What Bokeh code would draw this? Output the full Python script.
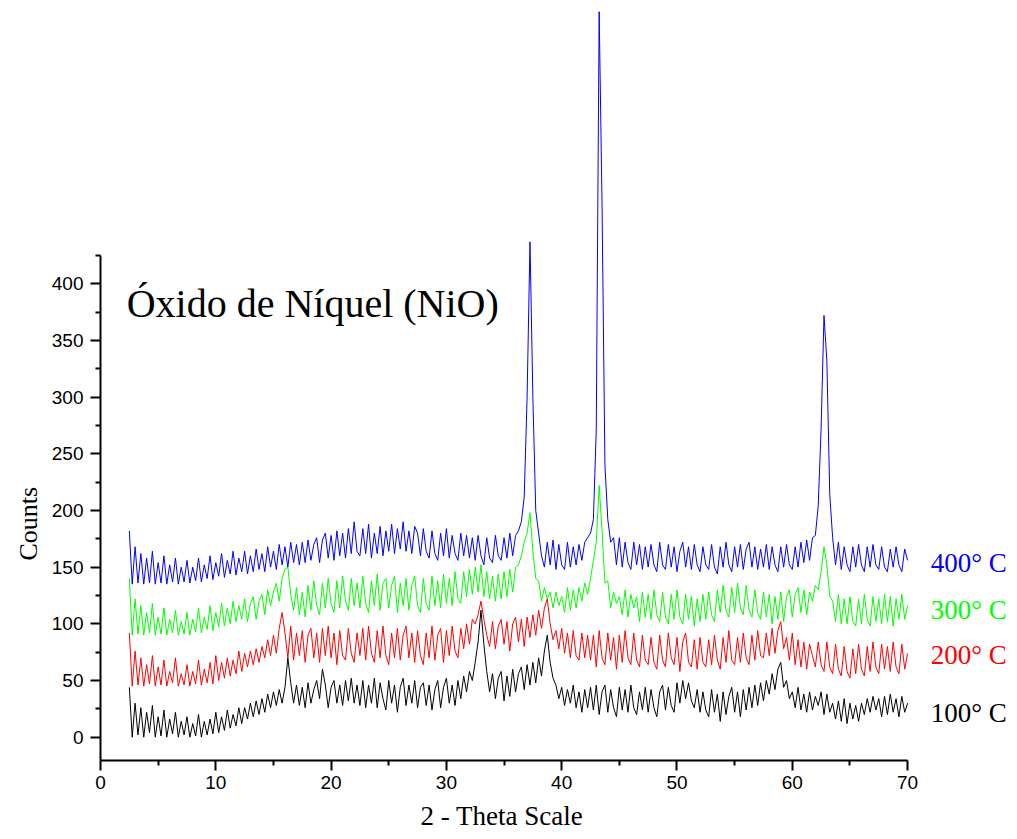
import math
from bokeh.plotting import figure
from bokeh.models import Range1d, FixedTicker, Title
from bokeh.core.properties import value
from bokeh.embed import file_html
from bokeh.resources import INLINE

# ---------------- data ----------------
two_theta_start = 2.5
two_theta_step = 0.25

counts_100 = [
    44, 0, 30, 2, 26, 0, 22, 4, 28, 0, 18, 1, 24, 0, 16, 3, 22, 0, 14, 2,
    18, 0, 12, 1, 20, 0, 14, 2, 16, 3, 22, 4, 18, 6, 24, 8, 20, 10, 26, 12,
    26, 16, 30, 18, 32, 20, 34, 22, 38, 26, 40, 28, 42, 30, 44, 70, 48, 30, 46, 28,
    44, 26, 48, 30, 42, 50, 34, 60, 46, 26, 44, 50, 30, 46, 28, 50, 32, 52, 30, 46,
    28, 50, 26, 46, 30, 52, 26, 48, 34, 24, 50, 30, 46, 22, 44, 52, 28, 46, 30, 50,
    26, 44, 48, 28, 46, 24, 42, 50, 26, 44, 52, 30, 46, 28, 50, 34, 54, 40, 58, 50,
    66, 84, 112, 82, 58, 40, 56, 34, 52, 58, 32, 54, 36, 60, 40, 56, 62, 42, 64, 46,
    66, 48, 70, 54, 76, 90, 66, 52, 46, 34, 44, 28, 42, 30, 46, 26, 40, 22, 42, 26,
    44, 24, 46, 20, 40, 46, 22, 42, 26, 18, 44, 24, 42, 22, 46, 26, 20, 40, 24, 44,
    22, 42, 26, 18, 40, 46, 24, 44, 28, 22, 48, 30, 50, 34, 48, 32, 26, 42, 22, 40,
    24, 18, 42, 22, 38, 14, 40, 20, 36, 44, 22, 40, 18, 42, 24, 44, 26, 46, 28, 48,
    32, 50, 38, 56, 42, 60, 66, 44, 50, 34, 40, 26, 44, 24, 38, 22, 40, 24, 36, 28,
    40, 20, 38, 22, 30, 16, 32, 14, 34, 12, 30, 16, 28, 14, 30, 20, 34, 22, 36, 24,
    34, 18, 36, 20, 38, 22, 34, 18, 36, 22, 30,
]

counts_200 = [
    92, 45, 76, 46, 70, 45, 64, 47, 72, 45, 62, 46, 68, 45, 58, 48, 70, 45, 56, 46,
    64, 45, 58, 47, 68, 46, 60, 48, 66, 47, 72, 50, 66, 52, 70, 54, 68, 56, 76, 58,
    74, 62, 76, 64, 78, 66, 80, 70, 86, 72, 90, 74, 96, 110, 92, 70, 98, 68, 92, 72,
    94, 66, 90, 96, 70, 92, 66, 96, 72, 98, 70, 92, 64, 94, 72, 68, 96, 74, 66, 92,
    72, 96, 68, 98, 74, 66, 94, 70, 98, 72, 64, 92, 70, 96, 68, 90, 98, 70, 92, 66,
    94, 72, 64, 92, 70, 98, 68, 90, 96, 66, 94, 72, 98, 76, 70, 96, 78, 100, 82, 104,
    100, 108, 120, 104, 90, 80, 102, 78, 98, 104, 82, 102, 76, 100, 106, 84, 104, 80, 106, 88,
    108, 90, 112, 96, 114, 122, 100, 86, 94, 78, 96, 74, 92, 70, 94, 72, 68, 92, 70, 90,
    68, 90, 62, 94, 70, 64, 92, 68, 88, 60, 90, 66, 94, 70, 64, 92, 68, 62, 90, 68,
    64, 88, 66, 60, 90, 68, 62, 92, 70, 64, 88, 58, 84, 92, 66, 62, 86, 60, 88, 66,
    62, 86, 64, 90, 68, 60, 88, 66, 94, 68, 64, 88, 66, 92, 70, 64, 90, 68, 94, 72,
    70, 92, 72, 96, 74, 94, 102, 78, 88, 68, 92, 64, 86, 62, 84, 60, 82, 72, 62, 84,
    64, 58, 84, 62, 56, 82, 60, 54, 80, 58, 52, 78, 56, 82, 60, 54, 80, 58, 84, 62,
    56, 82, 60, 80, 58, 84, 62, 56, 82, 60, 74,
]

counts_300 = [
    140, 90, 122, 91, 116, 90, 110, 92, 118, 90, 106, 91, 114, 90, 104, 92, 112, 90, 102, 91,
    110, 90, 104, 93, 114, 92, 106, 95, 116, 94, 110, 97, 118, 98, 114, 100, 120, 102, 116, 104,
    122, 102, 118, 124, 104, 120, 126, 108, 130, 116, 128, 136, 120, 140, 148, 150, 126, 112, 132, 108,
    128, 106, 134, 112, 138, 116, 108, 136, 114, 140, 118, 110, 138, 114, 142, 120, 112, 140, 116, 136,
    114, 142, 118, 110, 138, 116, 144, 112, 136, 140, 114, 134, 142, 110, 136, 116, 140, 112, 134, 142,
    116, 110, 140, 118, 112, 142, 116, 138, 114, 144, 118, 140, 116, 146, 122, 118, 146, 124, 148, 126,
    150, 128, 152, 124, 146, 122, 142, 120, 144, 122, 146, 124, 148, 128, 150, 152, 160, 172, 180, 198,
    164, 140, 138, 120, 132, 122, 128, 114, 128, 116, 124, 110, 132, 112, 130, 114, 132, 120, 136, 126,
    140, 156, 172, 222, 182, 136, 138, 114, 128, 118, 124, 108, 130, 106, 126, 114, 124, 102, 128, 106,
    126, 104, 130, 108, 102, 128, 106, 100, 126, 104, 130, 106, 100, 126, 104, 124, 98, 122, 102, 126,
    104, 128, 108, 102, 130, 110, 134, 112, 106, 132, 110, 136, 114, 108, 134, 112, 106, 130, 110, 104,
    128, 106, 126, 100, 124, 104, 128, 102, 124, 130, 106, 126, 132, 110, 130, 108, 128, 120, 134, 130,
    146, 168, 152, 124, 120, 102, 126, 100, 122, 100, 124, 102, 98, 122, 100, 126, 104, 98, 124, 102,
    122, 100, 126, 102, 124, 98, 122, 104, 126, 104, 116,
]

counts_400 = [
    182, 135, 168, 136, 162, 135, 158, 136, 164, 135, 154, 136, 160, 135, 152, 137, 158, 135, 150, 137,
    156, 136, 150, 138, 158, 137, 152, 140, 160, 139, 154, 142, 162, 141, 156, 144, 164, 143, 158, 146,
    164, 144, 160, 146, 166, 148, 162, 146, 168, 150, 164, 148, 170, 152, 168, 150, 172, 154, 170, 152,
    172, 154, 174, 156, 170, 176, 154, 174, 180, 158, 178, 156, 182, 160, 180, 158, 184, 162, 190, 164,
    160, 184, 162, 188, 158, 180, 162, 186, 160, 182, 164, 188, 162, 184, 166, 190, 164, 182, 162, 186,
    180, 160, 184, 164, 158, 182, 162, 156, 180, 160, 184, 158, 178, 162, 156, 180, 160, 178, 158, 176,
    156, 178, 160, 152, 176, 158, 154, 178, 160, 156, 176, 158, 180, 160, 178, 182, 190, 212, 300, 437,
    300, 200, 180, 160, 150, 172, 152, 174, 148, 170, 152, 148, 172, 150, 168, 152, 170, 156, 172, 176,
    180, 192, 272, 640, 470, 240, 192, 172, 176, 152, 176, 150, 172, 154, 148, 172, 152, 170, 148, 168,
    150, 170, 152, 146, 172, 152, 148, 170, 150, 168, 146, 164, 172, 150, 168, 148, 170, 152, 146, 168,
    152, 148, 170, 150, 144, 168, 150, 172, 152, 146, 168, 150, 170, 148, 166, 172, 150, 168, 148, 166,
    150, 170, 148, 168, 152, 146, 168, 150, 170, 152, 148, 168, 150, 172, 154, 174, 156, 176, 178, 204,
    272, 372, 332, 214, 176, 152, 172, 148, 168, 152, 146, 168, 150, 170, 152, 146, 168, 150, 170, 152,
    148, 168, 150, 146, 166, 150, 168, 152, 146, 166, 156,
]

series_labels = ["100\u00b0 C", "200\u00b0 C", "300\u00b0 C", "400\u00b0 C"]
series_colors = ["#000000", "#ff0000", "#00ff00", "#0000ff"]
x_ticks = [0, 10, 20, 30, 40, 50, 60, 70]
x_minor = [5, 15, 25, 35, 45, 55, 65]
y_ticks = [0, 50, 100, 150, 200, 250, 300, 350, 400]
y_minor = [25, 75, 125, 175, 225, 275, 325, 375, 425]
title_text = "\u00d3xido de N\u00edquel (NiO)"
x_title = "2 - Theta Scale"
y_title = "Counts"

# ---------------- figure ----------------
p = figure(width=1015, height=839, output_backend="svg", toolbar_location=None,
           title=None,
           x_range=Range1d(0, 79.36), y_range=Range1d(-20.56, 649.9),
           min_border_left=100, min_border_right=0, min_border_top=0,
           min_border_bottom=79)
p.outline_line_color = None
p.grid.visible = False
p.background_fill_color = "white"
p.border_fill_color = "white"

for ys, col in zip([counts_100, counts_200, counts_300, counts_400], series_colors):
    xs = [two_theta_start + i * two_theta_step for i in range(len(ys))]
    p.line(xs, ys, line_color=col, line_width=1)

# axes
for ax, ticks, minor, bounds in [(p.xaxis[0], x_ticks, x_minor, (0, 70)),
                                 (p.yaxis[0], y_ticks, y_minor, (-20.56, 425))]:
    ax.ticker = FixedTicker(ticks=ticks, minor_ticks=minor)
    ax.bounds = bounds
    ax.axis_line_width = 2
    ax.axis_line_color = "black"
    ax.major_tick_line_width = 2
    ax.minor_tick_line_width = 2
    ax.major_tick_out = 10
    ax.major_tick_in = 0
    ax.minor_tick_out = 5
    ax.minor_tick_in = 0
    ax.major_label_text_font = "Liberation Sans"
    ax.major_label_text_font_size = "19px"
    ax.major_label_text_color = "black"
p.xaxis[0].major_label_standoff = 5
p.yaxis[0].major_label_standoff = 7

# title inside plot
p.text(x=[2.27], y=[382.6], text=[title_text], text_font=value("Liberation Serif"),
       text_font_size="40px", text_color="black", text_baseline="alphabetic",
       text_align="left")

# series labels
p.text(x=[72.0] * 4, y=[21, 72.6, 112, 154], text=series_labels,
       text_color=series_colors, text_font=value("Liberation Serif"),
       text_font_size="27px", text_baseline="middle", text_align="left")

# axis titles
p.add_layout(Title(text=x_title, align="left", offset=320,
                   text_font="Liberation Serif", text_font_size="27px",
                   text_font_style="normal", text_color="black", standoff=15),
             "below")
p.add_layout(Title(text=y_title, align="left", offset=200,
                   text_font="Liberation Serif", text_font_size="26px",
                   text_font_style="normal", text_color="black", standoff=12),
             "left")

open("out.html", "w").write(file_html(p, INLINE))
